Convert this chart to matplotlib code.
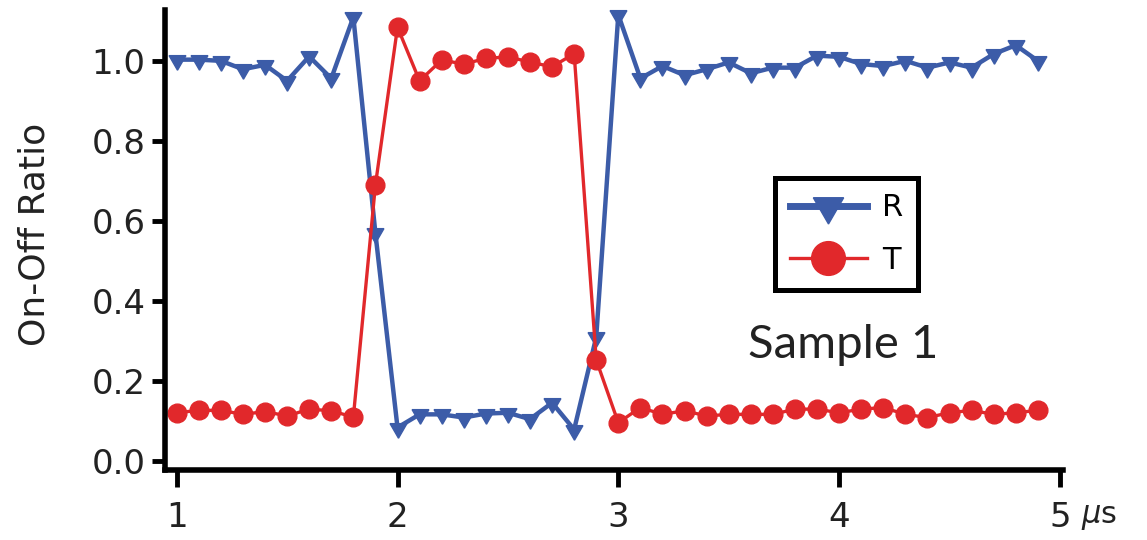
import matplotlib.pyplot as plt

plt.rcParams["font.family"] = ["DejaVu Sans"]

time_us = [1.0, 1.1, 1.2, 1.3, 1.4, 1.5, 1.6, 1.7, 1.8, 1.9,
           2.0, 2.1, 2.2, 2.3, 2.4, 2.5, 2.6, 2.7, 2.8, 2.9,
           3.0, 3.1, 3.2, 3.3, 3.4, 3.5, 3.6, 3.7, 3.8, 3.9,
           4.0, 4.1, 4.2, 4.3, 4.4, 4.5, 4.6, 4.7, 4.8, 4.9]

ratio_R = [1.003, 1.003, 1.000, 0.979, 0.990, 0.950, 1.011, 0.956, 1.109, 0.569,
           0.084, 0.117, 0.117, 0.109, 0.119, 0.121, 0.105, 0.146, 0.079, 0.310,
           1.115, 0.956, 0.987, 0.964, 0.979, 0.996, 0.969, 0.983, 0.983, 1.013,
           1.010, 0.992, 0.987, 1.000, 0.983, 0.996, 0.983, 1.017, 1.039, 1.000]

ratio_T = [0.121, 0.127, 0.127, 0.117, 0.124, 0.113, 0.130, 0.126, 0.110, 0.690,
           1.084, 0.950, 1.002, 0.992, 1.006, 1.010, 0.997, 0.985, 1.018, 0.253,
           0.096, 0.134, 0.117, 0.126, 0.113, 0.117, 0.117, 0.117, 0.130, 0.130,
           0.121, 0.130, 0.134, 0.117, 0.109, 0.121, 0.127, 0.117, 0.121, 0.127]

x_ticks = [1, 2, 3, 4, 5]
y_ticks = [0.0, 0.2, 0.4, 0.6, 0.8, 1.0]

blue = "#3c5ca8"
red = "#e1282b"
ink = "#222222"

fig = plt.figure(figsize=(11.47, 5.40), dpi=100)
ax = fig.add_axes([165 / 1147, 1 - 470 / 540, (1063 - 165) / 1147, 460 / 540])

ax.plot(time_us, ratio_R, color=blue, lw=3.2, marker=(3, 0, 180), ms=14,
        label="R", clip_on=False)
ax.plot(time_us, ratio_T, color=red, lw=2.4, marker="o", ms=13.5,
        label="T", clip_on=False)

ax.set_xlim(0.947, 5.014)
ax.set_ylim(-0.022, 1.127)
ax.set_xticks(x_ticks)
ax.set_xticklabels([str(t) for t in x_ticks])
ax.set_yticks(y_ticks)
ax.set_yticklabels(["%.1f" % t for t in y_ticks])

for s in ["top", "right"]:
    ax.spines[s].set_visible(False)
for s in ["left", "bottom"]:
    ax.spines[s].set_linewidth(4)
    ax.spines[s].set_capstyle("projecting")

ax.tick_params(axis="y", length=9.5, width=3.5, pad=4.5, labelsize=24.5,
               labelcolor=ink)
ax.tick_params(axis="x", length=12, width=3.5, pad=10, labelsize=24.5,
               labelcolor=ink)

ax.set_ylabel("On-Off Ratio", fontsize=26, color=ink)
ax.yaxis.set_label_coords(-0.126, 0.513)

fig.text(1081 / 1147, 1 - 517 / 540, "$\\mu$s", fontsize=22, ha="left",
         va="center", color=ink)

fig.text(843 / 1147, 1 - 345 / 540, "Sample 1", family="Lato", fontsize=34,
         ha="center", va="center", color=ink)

leg = ax.legend(loc="upper left", bbox_to_anchor=(775 / 1147, 1 - 178 / 540),
                bbox_transform=fig.transFigure, borderaxespad=0,
                fontsize=22, markerscale=1.8, handlelength=2.5,
                handletextpad=0.5, labelspacing=0.78, borderpad=0.5,
                fancybox=False, framealpha=1)
leg.get_frame().set_edgecolor("black")
leg.get_frame().set_linewidth(3.6)
leg.get_lines()[0].set_linewidth(5)

fig.savefig("out.png", dpi=100)
